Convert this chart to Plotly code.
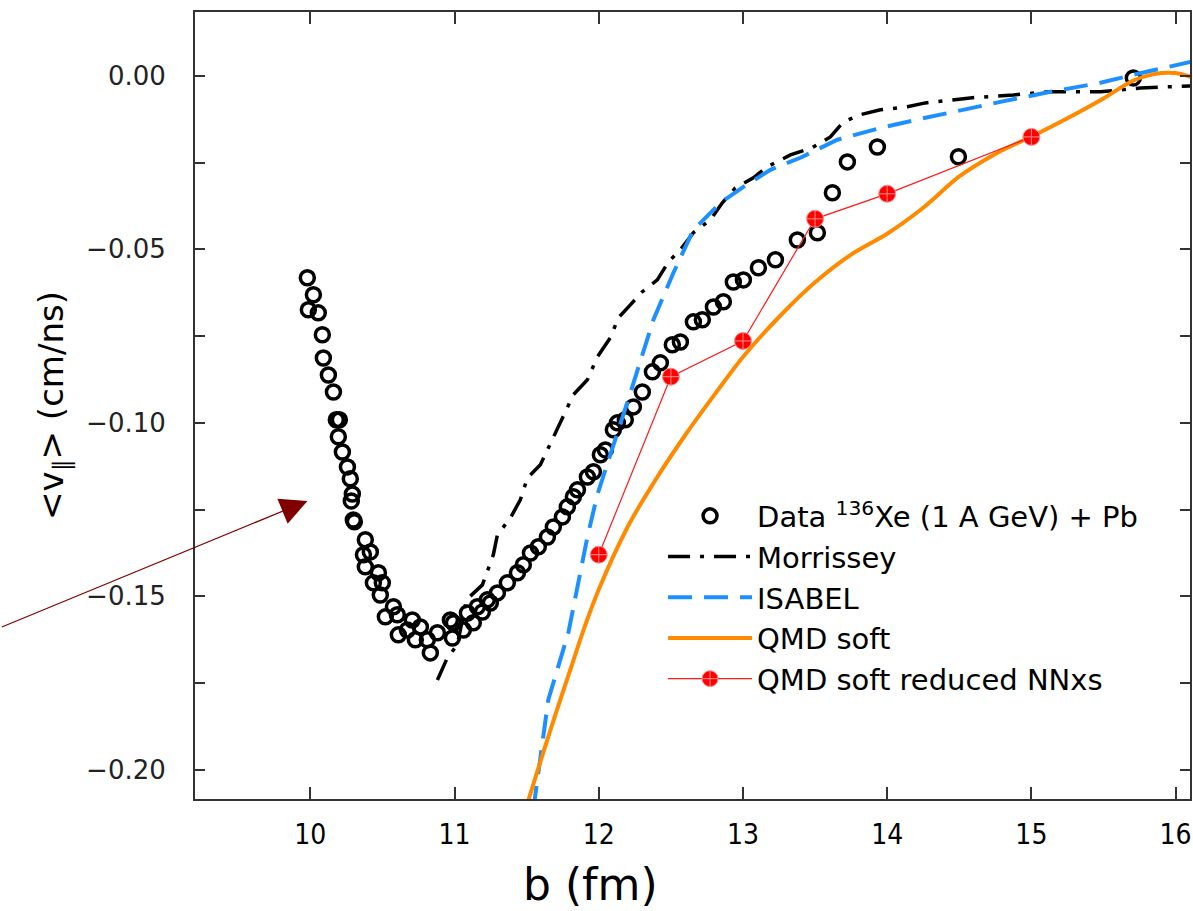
import plotly.graph_objects as go

# ---------------- data ----------------
b_data = [9.979, 10.021, 9.986, 10.055, 10.083, 10.090, 10.125, 10.160, 10.180, 10.201,
          10.194, 10.222, 10.257, 10.277, 10.291, 10.284, 10.298, 10.305, 10.381, 10.368,
          10.416, 10.381, 10.472, 10.437, 10.499, 10.485, 10.576, 10.520, 10.603, 10.610,
          10.707, 10.673, 10.763, 10.728, 10.811, 10.832, 10.881, 10.971, 10.992, 10.985,
          11.061, 11.089, 11.130, 11.158, 11.193, 11.227, 11.248, 11.297, 11.366, 11.436,
          11.477, 11.526, 11.581, 11.644, 11.685, 11.748, 11.782, 11.824, 11.852, 11.921,
          11.963, 12.011, 12.046, 12.101, 12.129, 12.184, 12.240, 12.302, 12.372, 12.427,
          12.510, 12.566, 12.656, 12.718, 12.795, 12.864, 12.933, 13.003, 13.107, 13.225,
          13.377, 13.516, 13.620, 13.724, 13.932, 14.494, 15.707]
v_data = [-0.0582, -0.0631, -0.0674, -0.0683, -0.0746, -0.0813, -0.0862, -0.0911, -0.0991, -0.0991,
          -0.1040, -0.1084, -0.1127, -0.1161, -0.1205, -0.1225, -0.1280, -0.1285, -0.1337, -0.1380,
          -0.1372, -0.1415, -0.1432, -0.1461, -0.1461, -0.1496, -0.1530, -0.1559, -0.1553, -0.1611,
          -0.1568, -0.1597, -0.1588, -0.1625, -0.1625, -0.1663, -0.1605, -0.1568, -0.1576, -0.1620,
          -0.1597, -0.1548, -0.1576, -0.1530, -0.1545, -0.1510, -0.1519, -0.1490, -0.1461, -0.1432,
          -0.1409, -0.1375, -0.1357, -0.1329, -0.1300, -0.1271, -0.1242, -0.1213, -0.1193, -0.1156,
          -0.1141, -0.1092, -0.1078, -0.1020, -0.1000, -0.0991, -0.0954, -0.0911, -0.0853, -0.0827,
          -0.0775, -0.0767, -0.0709, -0.0703, -0.0666, -0.0651, -0.0594, -0.0588, -0.0553, -0.0530,
          -0.0473, -0.0452, -0.0337, -0.0248, -0.0205, -0.0233, -0.0006]

b_morrissey = [10.881, 10.950, 11.019, 11.082, 11.193, 11.269, 11.297, 11.387, 11.456, 11.505,
               11.595, 11.650, 11.699, 11.768, 11.824, 11.921, 11.990, 12.080, 12.136, 12.219,
               12.302, 12.406, 12.483, 12.566, 12.656, 12.774, 12.857, 12.947, 13.072, 13.169,
               13.329, 13.481, 13.606, 13.696, 13.814, 13.953, 14.140, 14.265, 14.591, 14.875,
               15.111, 15.479, 15.756, 16.103]
v_morrissey = [-0.1741, -0.1677, -0.1640, -0.1510, -0.1467, -0.1380, -0.1323, -0.1274, -0.1222, -0.1159,
               -0.1121, -0.1072, -0.1026, -0.0968, -0.0919, -0.0876, -0.0810, -0.0755, -0.0697, -0.0660,
               -0.0622, -0.0588, -0.0536, -0.0501, -0.0452, -0.0415, -0.0366, -0.0323, -0.0294, -0.0262,
               -0.0228, -0.0207, -0.0176, -0.0133, -0.0112, -0.0098, -0.0089, -0.0078, -0.0063, -0.0055,
               -0.0046, -0.0046, -0.0035, -0.0029]

b_isabel = [11.546, 11.650, 11.789, 11.852, 11.921, 11.990, 12.060, 12.129, 12.219, 12.379,
            12.517, 12.656, 12.843, 13.003, 13.190, 13.398, 13.655, 13.953, 14.230, 14.542,
            14.785, 15.132, 15.479, 15.707, 16.103]
v_isabel = [-0.2115, -0.1798, -0.1605, -0.1473, -0.1329, -0.1207, -0.1121, -0.1029, -0.0914, -0.0703,
            -0.0568, -0.0444, -0.0366, -0.0320, -0.0271, -0.0236, -0.0184, -0.0150, -0.0124, -0.0095,
            -0.0075, -0.0046, -0.0020, 0.0003, 0.0040]

b_qmd = [11.48, 11.60, 11.70, 11.80, 11.90, 12.00, 12.20, 12.40, 12.60, 12.80,
         13.00, 13.25, 13.50, 13.75, 14.00, 14.25, 14.50, 14.75, 15.00, 15.25,
         15.50, 15.70, 15.85, 16.00, 16.12]
v_qmd = [-0.2130, -0.1970, -0.1840, -0.1715, -0.1590, -0.1480, -0.1300, -0.1160, -0.1035, -0.0920,
         -0.0810, -0.0695, -0.0595, -0.0515, -0.0455, -0.0380, -0.0290, -0.0225, -0.0175, -0.0122,
         -0.0065, -0.0015, 0.0005, 0.0008, -0.0005]

b_reduced = [12.0, 12.5, 13.0, 13.5, 14.0, 15.0]
v_reduced = [-0.1380, -0.0867, -0.0764, -0.0412, -0.0340, -0.0176]

# arrow (data coordinates): tip and tail
arrow_tip = (9.98, -0.1225)
arrow_tail = (7.85, -0.159)

FONT = "DejaVu Sans, sans-serif"

fig = go.Figure()

fig.add_trace(go.Scatter(
    x=b_data, y=v_data, mode="markers", name="Data <sup>136</sup>Xe (1 A GeV) + Pb",
    marker=dict(symbol="circle-open", size=14, color="black", line=dict(width=3.5, color="black")),
    legendrank=1, legendgroup="a"))

fig.add_trace(go.Scatter(
    x=b_morrissey, y=v_morrissey, mode="lines", name="Morrissey",
    line=dict(color="black", width=3.5, dash="22px,10px,4px,10px"),
    legendrank=2, legendgroup="b"))

fig.add_trace(go.Scatter(
    x=b_isabel, y=v_isabel, mode="lines", name="ISABEL",
    line=dict(color="#1E8FFF", width=4, dash="24px,12px"),
    legendrank=3, legendgroup="c"))

fig.add_trace(go.Scatter(
    x=b_qmd, y=v_qmd, mode="lines", name="QMD soft",
    line=dict(color="#FF8A00", width=4, shape="spline", smoothing=0.8),
    legendrank=4, legendgroup="d"))

fig.add_trace(go.Scatter(
    x=b_reduced, y=v_reduced, mode="lines+markers", name="QMD soft reduced NNxs",
    line=dict(color="#FF1A1A", width=1.2),
    marker=dict(symbol="circle-cross", size=17, color="#FF0000",
                line=dict(width=1, color="#FF9090")),
    legendrank=5, legendgroup="e"))

fig.add_annotation(
    x=arrow_tip[0], y=arrow_tip[1], xref="x", yref="y",
    ax=arrow_tail[0], ay=arrow_tail[1], axref="x", ayref="y",
    text="", showarrow=True, arrowhead=2, arrowsize=4.5, arrowwidth=1.2,
    arrowcolor="#800000", standoff=0)

# x-axis title (placed left of centre, as in the original)
fig.add_annotation(
    text="b (fm)", xref="paper", yref="paper", x=0.397, y=-0.109,
    xanchor="center", yanchor="middle", showarrow=False,
    font=dict(family=FONT, size=44, color="black"))

axis_common = dict(
    showgrid=False, zeroline=False, showline=True, linecolor="#333333", linewidth=2,
    mirror="allticks", ticks="inside", tickcolor="#333333", tickwidth=1.5,
)

fig.update_xaxes(
    **axis_common, range=[9.2, 16.1], tickmode="linear", tick0=10, dtick=1, ticklen=12,
    tickfont=dict(family="DejaVu Sans Condensed, DejaVu Sans, sans-serif", size=28, color="black"),
    ticklabelstandoff=9,
)
fig.update_yaxes(
    **axis_common, range=[-0.2084, 0.0184], tickmode="linear", tick0=0, dtick=0.05, ticklen=10,
    tickformat=".2f", tickfont=dict(family=FONT, size=26, color="#222222"),
    ticklabelstandoff=22,
    minor=dict(dtick=0.025, ticks="inside", ticklen=10, tickcolor="#333333", tickwidth=1.5),
    title=dict(text="&lt;v<sub>∥</sub>&gt; (cm/ns)", font=dict(family=FONT, size=34, color="black"),
               standoff=12),
)

fig.update_layout(
    width=1193, height=911,
    margin=dict(l=195, r=3, t=12, b=112, autoexpand=False),
    plot_bgcolor="white", paper_bgcolor="white",
    showlegend=True,
    legend=dict(x=0.4704, y=0.392, xanchor="left", yanchor="top",
                bgcolor="rgba(0,0,0,0)", borderwidth=0,
                font=dict(family=FONT, size=29, color="black"),
                itemwidth=84, tracegroupgap=0, traceorder="grouped"),
)

fig.write_html(
    "out.html",
    config={"displayModeBar": False},
    post_script="document.body.style.margin='0';document.body.style.overflow='hidden';",
)
